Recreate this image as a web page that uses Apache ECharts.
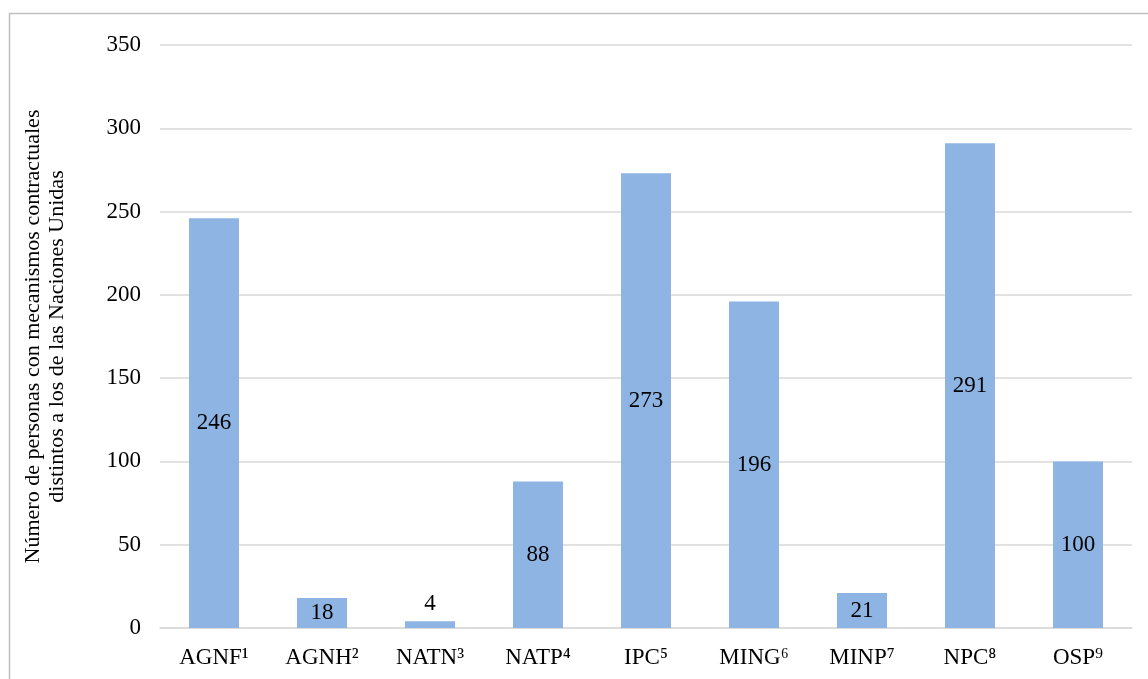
<!DOCTYPE html>
<html>
<head>
<meta charset="utf-8">
<script src="https://cdn.jsdelivr.net/npm/echarts@6/dist/echarts.min.js"></script>
<style>
html,body{margin:0;padding:0;background:#fff;}
#chart{width:1148px;height:679px;}
</style>
</head>
<body>
<div id="chart"></div>
<script>
const categories = ['AGNF¹','AGNH²','NATN³','NATP⁴','IPC⁵','MING⁶','MINP⁷','NPC⁸','OSP⁹'];
const values = [246, 18, 4, 88, 273, 196, 21, 291, 100];
const yTicks = [0, 50, 100, 150, 200, 250, 300, 350];
const yTitle = 'Número de personas con mecanismos contractuales\ndistintos a los de las Naciones Unidas';

const FONT = '"Liberation Serif","Times New Roman",serif';
const chart = echarts.init(document.getElementById('chart'));
chart.setOption({
  animation: false,
  backgroundColor: '#fff',
  graphic: [{
    type: 'rect',
    shape: {x: 9.5, y: 13.5, width: 1200, height: 700},
    style: {fill: 'none', stroke: '#bfbfbf', lineWidth: 1.5},
    silent: true
  }],
  grid: {left: 160, right: 16, top: 45, bottom: 51},
  xAxis: {
    type: 'category',
    data: categories,
    axisLine: {lineStyle: {color: '#d9d9d9', width: 1.5}},
    axisTick: {show: false},
    axisLabel: {fontFamily: FONT, fontSize: 23, color: '#000', margin: 18}
  },
  yAxis: {
    type: 'value',
    min: yTicks[0],
    max: yTicks[yTicks.length - 1],
    interval: 50,
    name: yTitle,
    nameLocation: 'middle',
    nameGap: 91,
    nameRotate: 90,
    nameTextStyle: {fontFamily: FONT, fontSize: 22, color: '#000', lineHeight: 24},
    axisLine: {show: false},
    axisTick: {show: false},
    axisLabel: {fontFamily: FONT, fontSize: 23, color: '#000', margin: 19},
    splitLine: {lineStyle: {color: '#d9d9d9', width: 1.5}}
  },
  series: [{
    type: 'bar',
    data: values.map(v => v < 10 ? {value: v, label: {position: 'top', distance: 6}} : v),
    barWidth: 50,
    itemStyle: {color: '#8eb4e3'},
    label: {
      show: true,
      position: 'inside',
      fontFamily: FONT,
      fontSize: 23,
      color: '#000'
    }
  }]
});
</script>
</body>
</html>
